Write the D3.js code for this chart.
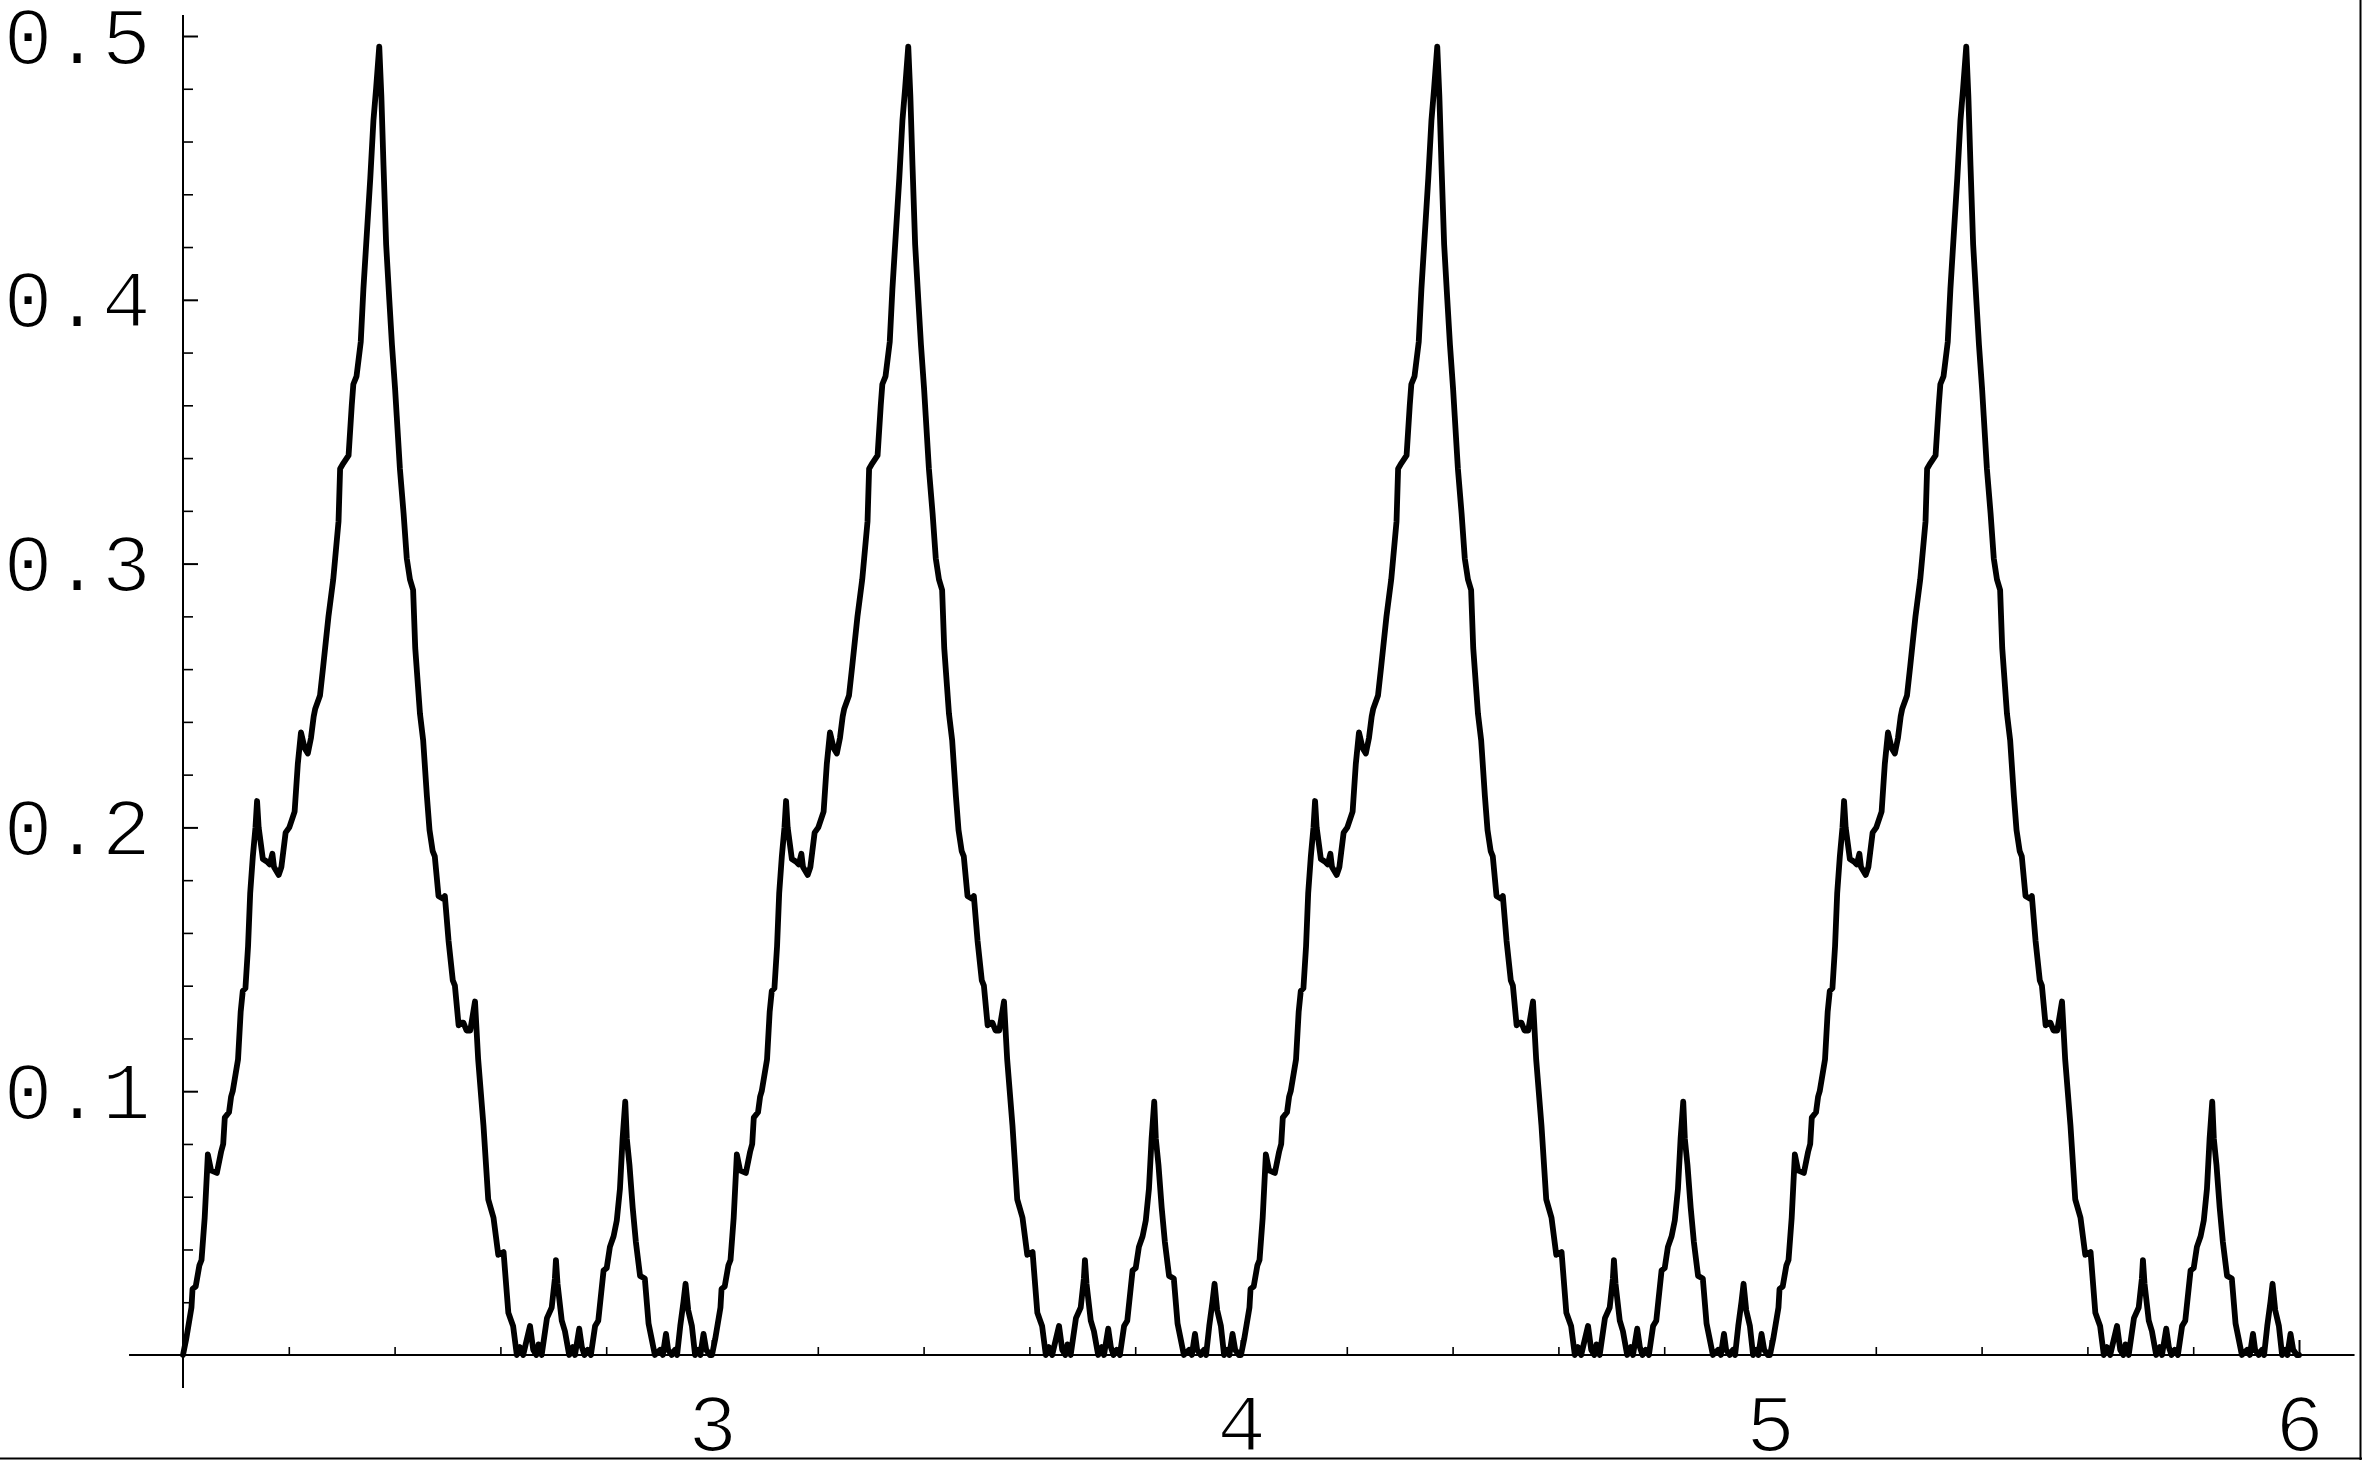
<!DOCTYPE html>
<html><head><meta charset="utf-8">
<script src="https://cdn.jsdelivr.net/npm/d3@7/dist/d3.min.js"></script>
<style>html,body{margin:0;padding:0;background:#fff;overflow:hidden}</style>
</head><body>
<svg id="chart" width="2362" height="1460"></svg>
<script>
// ---- data ----
// the curve repeats with period 1; one period is traced below
const periodStarts = [2, 3, 4, 5];
const periodX = [
  0.000, 0.006, 0.016, 0.018, 0.024, 0.031, 0.035, 0.041, 0.047, 0.053,
  0.064, 0.072, 0.076, 0.079, 0.087, 0.091, 0.094, 0.104, 0.109, 0.113,
  0.118, 0.123, 0.127, 0.132, 0.137, 0.140, 0.143, 0.151, 0.159, 0.164,
  0.169, 0.172, 0.181, 0.186, 0.194, 0.201, 0.211, 0.217, 0.223, 0.230,
  0.236, 0.242, 0.247, 0.250, 0.259, 0.265, 0.275, 0.284, 0.294, 0.297,
  0.303, 0.313, 0.319, 0.322, 0.328, 0.336, 0.341, 0.354, 0.360, 0.365,
  0.371, 0.375, 0.379, 0.384, 0.390, 0.395, 0.401, 0.404, 0.410, 0.417,
  0.423, 0.429, 0.435, 0.439, 0.448, 0.454, 0.461, 0.466, 0.472, 0.476,
  0.483, 0.491, 0.495, 0.502, 0.510, 0.514, 0.521, 0.527, 0.530, 0.536,
  0.543, 0.552, 0.558, 0.568, 0.577, 0.587, 0.596, 0.606, 0.615, 0.624,
  0.631, 0.637, 0.643, 0.656, 0.662, 0.668, 0.672, 0.678, 0.688, 0.697,
  0.703, 0.705, 0.708, 0.716, 0.722, 0.730, 0.737, 0.741, 0.749, 0.754,
  0.759, 0.765, 0.771, 0.779, 0.785, 0.795, 0.801, 0.807, 0.814, 0.820,
  0.826, 0.831, 0.836, 0.839, 0.844, 0.850, 0.856, 0.864, 0.873, 0.880,
  0.886, 0.892, 0.902, 0.907, 0.913, 0.917, 0.924, 0.930, 0.934, 0.940,
  0.946, 0.950, 0.955, 0.962, 0.968, 0.974, 0.978, 0.984, 0.989, 0.996,
  1.000
];
const periodY = [
  0.000, 0.006, 0.018, 0.025, 0.026, 0.034, 0.036, 0.052, 0.076, 0.070,
  0.069, 0.077, 0.080, 0.090, 0.092, 0.098, 0.100, 0.112, 0.130, 0.138,
  0.139, 0.155, 0.175, 0.189, 0.200, 0.210, 0.200, 0.188, 0.187, 0.186,
  0.190, 0.185, 0.182, 0.185, 0.198, 0.200, 0.206, 0.224, 0.236, 0.230,
  0.228, 0.234, 0.242, 0.245, 0.250, 0.261, 0.280, 0.294, 0.316, 0.336,
  0.338, 0.341, 0.360, 0.368, 0.371, 0.384, 0.404, 0.446, 0.468, 0.480,
  0.496, 0.477, 0.451, 0.421, 0.400, 0.383, 0.366, 0.356, 0.336, 0.319,
  0.302, 0.294, 0.290, 0.268, 0.243, 0.233, 0.212, 0.199, 0.191, 0.189,
  0.174, 0.173, 0.174, 0.157, 0.142, 0.140, 0.125, 0.126, 0.126, 0.123,
  0.123, 0.134, 0.112, 0.087, 0.059, 0.052, 0.038, 0.039, 0.016, 0.011,
  0.000, 0.003, 0.000, 0.011, 0.002, 0.000, 0.004, 0.000, 0.014, 0.018,
  0.029, 0.036, 0.027, 0.013, 0.009, 0.000, 0.003, 0.000, 0.010, 0.003,
  0.000, 0.002, 0.000, 0.011, 0.013, 0.032, 0.033, 0.041, 0.045, 0.051,
  0.063, 0.082, 0.096, 0.082, 0.072, 0.056, 0.043, 0.030, 0.029, 0.012,
  0.006, 0.000, 0.002, 0.000, 0.008, 0.002, 0.000, 0.002, 0.000, 0.011,
  0.020, 0.027, 0.017, 0.011, 0.000, 0.002, 0.000, 0.008, 0.002, 0.000,
  0.000
];
const xMajorTicks = [3, 4, 5, 6];
const xTickLabels = ["3", "4", "5", "6"];
const xMinorTicks = [2.2, 2.4, 2.6, 2.8, 3.2, 3.4, 3.6, 3.8, 4.2, 4.4, 4.6, 4.8,
                     5.2, 5.4, 5.6, 5.8];
const yMajorTicks = [0.1, 0.2, 0.3, 0.4, 0.5];
const yTickLabels = ["0.1", "0.2", "0.3", "0.4", "0.5"];
const yMinorTicks = [0.02, 0.04, 0.06, 0.08, 0.12, 0.14, 0.16, 0.18, 0.22, 0.24,
                     0.26, 0.28, 0.32, 0.34, 0.36, 0.38, 0.42, 0.44, 0.46, 0.48];

// ---- build points ----
const points = [];
periodStarts.forEach(s => {
  periodX.forEach((dx, i) => points.push([s + dx, periodY[i]]));
});

// ---- drawing ----
const W = 2362, H = 1460;
const svg = d3.select("#chart");
svg.append("rect").attr("width", W).attr("height", H).attr("fill", "#fff");

const x = d3.scaleLinear().domain([2, 6]).range([183, 2299]);
const y = d3.scaleLinear().domain([0, 0.5]).range([1355, 36]);

const FONT = "'Liberation Mono', 'Courier New', monospace";
const FS = 82;

// axis lines
svg.append("line")
  .attr("x1", x(1.898)).attr("x2", x(6.105))
  .attr("y1", y(0)).attr("y2", y(0))
  .attr("stroke", "#000").attr("stroke-width", 2);
svg.append("line")
  .attr("x1", x(2)).attr("x2", x(2))
  .attr("y1", y(-0.0125)).attr("y2", y(0.508))
  .attr("stroke", "#000").attr("stroke-width", 2);

function styleTicks(g, w) {
  g.select(".domain").remove();
  g.selectAll(".tick line").attr("stroke", "#000").attr("stroke-width", w);
}

// y ticks (pointing right into the plot)
svg.append("g").attr("transform", `translate(${x(2)},0)`)
  .call(d3.axisRight(y).tickValues(yMinorTicks).tickSize(10).tickFormat(""))
  .call(g => styleTicks(g, 1.6));
svg.append("g").attr("transform", `translate(${x(2)},0)`)
  .call(d3.axisRight(y).tickValues(yMajorTicks).tickSize(15).tickFormat(""))
  .call(g => styleTicks(g, 2));

// x ticks (pointing up into the plot)
svg.append("g").attr("transform", `translate(0,${y(0)})`)
  .call(d3.axisTop(x).tickValues(xMinorTicks).tickSize(8).tickFormat(""))
  .call(g => styleTicks(g, 1.6));
svg.append("g").attr("transform", `translate(0,${y(0)})`)
  .call(d3.axisTop(x).tickValues(xMajorTicks).tickSize(15).tickFormat(""))
  .call(g => styleTicks(g, 2));

// labels
const yl = svg.append("g").attr("transform", `translate(${x(2)},0)`)
  .call(d3.axisLeft(y).tickValues(yMajorTicks).tickSize(0).tickPadding(32)
        .tickFormat((d, i) => yTickLabels[i]));
yl.select(".domain").remove();
yl.selectAll("text").attr("dy", "0.33em");

const xl = svg.append("g").attr("transform", `translate(0,${y(0)})`)
  .call(d3.axisBottom(x).tickValues(xMajorTicks).tickSize(0).tickPadding(38)
        .tickFormat((d, i) => xTickLabels[i]));
xl.select(".domain").remove();

svg.selectAll(".tick text")
  .attr("font-family", FONT).attr("font-size", FS).attr("fill", "#000")
  .attr("stroke", "#fff").attr("stroke-width", 2.2);
yl.attr("font-family", null).attr("font-size", null);
xl.attr("font-family", null).attr("font-size", null);

// the curve
const line = d3.line().x(d => x(d[0])).y(d => y(d[1]));
svg.append("path").datum(points)
  .attr("d", line)
  .attr("fill", "none").attr("stroke", "#000")
  .attr("stroke-width", 5.8).attr("stroke-linejoin", "round")
  .attr("stroke-linecap", "round");

// frame edges at right and bottom
svg.append("line").attr("x1", 2360.5).attr("x2", 2360.5).attr("y1", 0).attr("y2", H)
  .attr("stroke", "#000").attr("stroke-width", 2);
svg.append("line").attr("x1", 0).attr("x2", W).attr("y1", 1458.5).attr("y2", 1458.5)
  .attr("stroke", "#000").attr("stroke-width", 2);
</script>
</body></html>
